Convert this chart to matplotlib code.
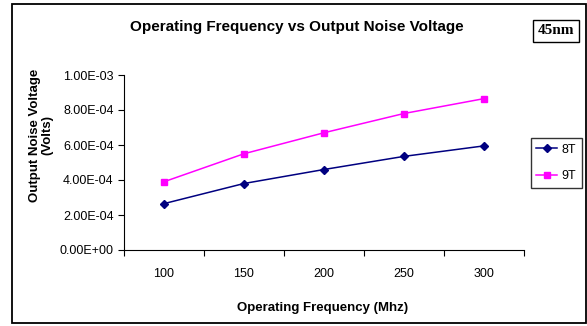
import numpy as np
import matplotlib.pyplot as plt
from matplotlib.patches import Rectangle

freqs = ["100", "150", "200", "250", "300"]
noise_8t = [2.65e-4, 3.80e-4, 4.60e-4, 5.35e-4, 5.95e-4]
noise_9t = [3.90e-4, 5.50e-4, 6.70e-4, 7.80e-4, 8.65e-4]
yticks = [0, 2e-4, 4e-4, 6e-4, 8e-4, 1e-3]
ytick_labels = ["0.00E+00", "2.00E-04", "4.00E-04", "6.00E-04", "8.00E-04", "1.00E-03"]

W, H = 587, 326
plt.rcParams['font.family'] = ['Liberation Sans', 'DejaVu Sans']

fig = plt.figure(figsize=(W / 100, H / 100), dpi=100)


def fx(px):
    return px / W


def fy(py):
    return 1 - py / H


# outer chart border
fig.patches.append(Rectangle((fx(12), fy(323)), fx(586) - fx(12), fy(4) - fy(323),
                             transform=fig.transFigure, fill=False, ec="black", lw=1.3))

ax = fig.add_axes([fx(124), fy(250), fx(524) - fx(124), fy(75) - fy(250)])
x = np.arange(len(freqs))
ax.plot(x, noise_8t, color="#000080", marker="D", markersize=4.5, lw=1.1, label="8T")
ax.plot(x, noise_9t, color="#FF00FF", marker="s", markersize=5, lw=1.1, label="9T")

ax.set_xlim(-0.5, len(freqs) - 0.5)
ax.set_ylim(0, 1e-3)
ax.set_yticks(yticks, labels=ytick_labels, fontsize=9)
ax.set_xticks(np.arange(-0.5, len(freqs)), labels=[])
ax.set_xticks(x, labels=freqs, minor=True, fontsize=9)
ax.tick_params(axis="x", which="minor", length=0, pad=13)
ax.tick_params(axis="x", which="major", direction="out", length=4)
ax.tick_params(axis="y", direction="out", length=4)
for s in ["top", "right"]:
    ax.spines[s].set_visible(False)

fig.text(fx(297), fy(27), "Operating Frequency vs Output Noise Voltage",
         ha="center", va="center", fontsize=11, fontweight="bold")
fig.text(fx(323), fy(308), "Operating Frequency (Mhz)", ha="center", va="center",
         fontsize=9.5, fontweight="bold")
fig.text(fx(41), fy(135), "Output Noise Voltage\n(Volts)", ha="center", va="center",
         rotation=90, fontsize=9.5, fontweight="bold", linespacing=1.0)
fig.text(fx(556), fy(31), "45nm", ha="center", va="center", fontsize=11,
         fontweight="bold", family="Liberation Serif",
         bbox=dict(boxstyle="square,pad=0.3", fc="white", ec="black", lw=1))

fig.legend(loc="upper right", bbox_to_anchor=(fx(582), fy(138)), fontsize=9,
           frameon=True, fancybox=False, edgecolor="black", handlelength=1.7,
           borderpad=0.45, labelspacing=1.15, handletextpad=0.35, borderaxespad=0)

fig.savefig("out.png", dpi=100)
